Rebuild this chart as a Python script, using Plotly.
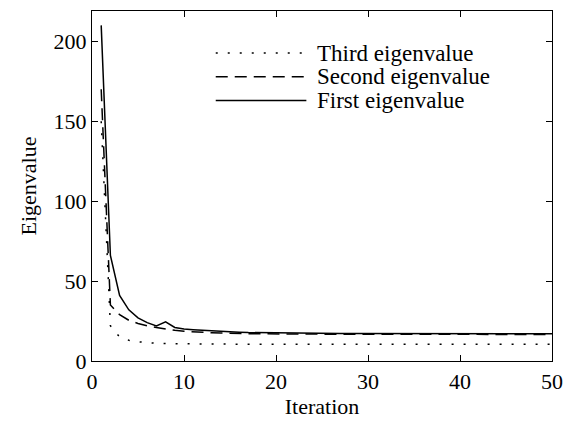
import plotly.graph_objects as go

iterations = list(range(1, 51))

first_eig = [210, 66, 41, 32, 27, 24, 22, 24.5, 21, 20,
             19.6, 19.2, 18.8, 18.5, 18.2, 18.0, 17.8, 17.7, 17.6, 17.5,
             17.5, 17.4, 17.4, 17.3, 17.3, 17.3, 17.2, 17.2, 17.2, 17.2,
             17.1, 17.1, 17.1, 17.1, 17.1, 17.1, 17.0, 17.0, 17.0, 17.0,
             17.0, 17.0, 17.0, 17.0, 17.0, 17.0, 17.0, 17.0, 17.0, 17.0]

second_eig = [170, 35, 29, 25.5, 23.5, 22, 21, 20, 19.2, 18.6,
              18.2, 17.9, 17.7, 17.5, 17.3, 17.2, 17.1, 17.0, 17.0, 16.9,
              16.9, 16.9, 16.8, 16.8, 16.8, 16.8, 16.8, 16.7, 16.7, 16.7,
              16.7, 16.7, 16.7, 16.7, 16.6, 16.6, 16.6, 16.6, 16.6, 16.6,
              16.6, 16.6, 16.6, 16.6, 16.6, 16.6, 16.6, 16.6, 16.6, 16.6]

third_eig = [150, 22, 15, 13, 12, 11.4, 11.1, 10.9, 10.8, 10.7,
             10.7, 10.6, 10.6, 10.6, 10.5, 10.5, 10.5, 10.5, 10.5, 10.5,
             10.5, 10.5, 10.5, 10.5, 10.5, 10.5, 10.5, 10.5, 10.5, 10.5,
             10.5, 10.5, 10.5, 10.5, 10.5, 10.5, 10.5, 10.5, 10.5, 10.5,
             10.5, 10.5, 10.5, 10.5, 10.5, 10.5, 10.5, 10.5, 10.5, 10.5]

series_names = ["Third eigenvalue", "Second eigenvalue", "First eigenvalue"]
series_values = [third_eig, second_eig, first_eig]
dash_styles = ["2px,10px", "12px,7px", "solid"]

x_ticks = [0, 10, 20, 30, 40, 50]
y_ticks = [0, 50, 100, 150, 200]

FONT = "Times New Roman"

fig = go.Figure()
for name, vals, dash in zip(series_names, series_values, dash_styles):
    fig.add_trace(go.Scatter(
        x=iterations, y=vals, mode="lines", name=name,
        line=dict(color="black", width=1.5, dash=dash),
        showlegend=False,
    ))

# Hand-drawn legend: long line samples with labels to the right
legend_y = [0.880, 0.812, 0.744]
for name, dash, yy in zip(series_names, dash_styles, legend_y):
    fig.add_shape(type="line", xref="paper", yref="paper",
                  x0=0.269, x1=0.466, y0=yy, y1=yy,
                  line=dict(color="black", width=1.5, dash=dash))
    fig.add_annotation(xref="paper", yref="paper", x=0.485, y=yy,
                       text=name, showarrow=False, xanchor="left",
                       yanchor="middle",
                       font=dict(family=FONT, size=23, color="black"))

axis_common = dict(
    showline=True, linecolor="black", linewidth=1.2, mirror="ticks",
    ticks="inside", ticklen=6, tickwidth=1.2, tickcolor="black",
    showgrid=False, zeroline=False,
    tickfont=dict(family=FONT, size=22, color="black"),
)

fig.update_xaxes(range=[0, 50], tickvals=x_ticks,
                 title=dict(text="Iteration", font=dict(family=FONT, size=22, color="black"), standoff=6),
                 **axis_common)
fig.update_yaxes(range=[0, 219], tickvals=y_ticks,
                 title=dict(text="Eigenvalue", font=dict(family=FONT, size=22, color="black"), standoff=10),
                 **axis_common)

fig.update_layout(
    width=573, height=431,
    margin=dict(l=92, r=13, t=10, b=70),
    plot_bgcolor="white", paper_bgcolor="white",
    showlegend=False,
    font=dict(family=FONT, color="black"),
)

fig.write_html("out.html")
